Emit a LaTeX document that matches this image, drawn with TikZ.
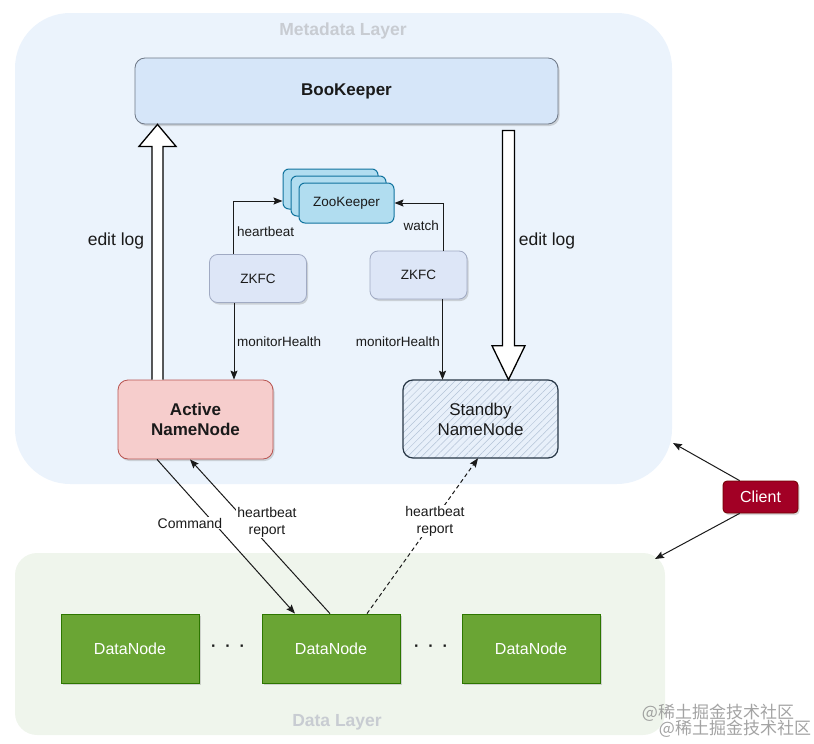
\documentclass[tikz,border=0pt]{standalone}
\usepackage{fontspec}
\setmainfont{Liberation Sans}
\newfontfamily\cjk{Noto Sans CJK SC}
\usetikzlibrary{calc}
\usetikzlibrary{arrows.meta}
\usetikzlibrary{patterns.meta}
\usetikzlibrary{shadows}
\usepackage{xcolor}
\definecolor{metabg}{RGB}{235,243,252}
\definecolor{databg}{RGB}{239,245,236}
\definecolor{layertxt}{RGB}{200,204,210}
\definecolor{txt}{RGB}{26,26,26}
\definecolor{bkfill}{RGB}{214,230,249}
\definecolor{bkdraw}{RGB}{110,120,135}
\definecolor{zkfill}{RGB}{177,221,240}
\definecolor{zkdraw}{RGB}{16,115,158}
\definecolor{zkfcfill}{RGB}{221,230,247}
\definecolor{zkfcdraw}{RGB}{160,170,195}
\definecolor{actfill}{RGB}{246,205,204}
\definecolor{actdraw}{RGB}{184,84,80}
\definecolor{stbfill}{RGB}{232,240,250}
\definecolor{stbhatch}{RGB}{180,195,215}
\definecolor{stbdraw}{RGB}{40,55,70}
\definecolor{dnfill}{RGB}{106,165,52}
\definecolor{dndraw}{RGB}{45,118,0}
\definecolor{clfill}{RGB}{162,0,37}
\definecolor{cldraw}{RGB}{111,0,0}

\begin{document}
\begin{tikzpicture}[x=1pt,y=-1pt,
  >={Stealth[length=9pt,width=7pt,inset=1.5pt]},
  shad/.style={drop shadow={shadow xshift=1.5pt,shadow yshift=-2pt,opacity=.3,fill=black!50}},
  box/.style={draw, rounded corners=8pt, align=center, text=txt, line width=.8pt},
  bkbox/.style={box, shad, fill=bkfill, draw=bkdraw, rounded corners=10pt, minimum width=423pt, minimum height=66pt, font=\bfseries\fontsize{17}{20}\selectfont},
  zkbox/.style={box, fill=zkfill, draw=zkdraw, line width=1pt, rounded corners=6pt, minimum width=95pt, minimum height=40pt, font=\fontsize{13.5}{16}\selectfont},
  zkfcbox/.style={box, shad, fill=zkfcfill, draw=zkfcdraw, minimum width=97pt, minimum height=48pt, font=\fontsize{13.5}{16}\selectfont},
  actbox/.style={box, shad, fill=actfill, draw=actdraw, rounded corners=10pt, minimum width=155pt, minimum height=79pt, font=\bfseries\fontsize{17}{20}\selectfont},
  stbbox/.style={box, draw=stbdraw, line width=1.2pt, rounded corners=10pt, preaction={fill=stbfill}, pattern={Lines[angle=45,distance=5pt,line width=.5pt]}, pattern color=stbhatch, minimum width=155pt, minimum height=78pt, font=\fontsize{17}{20}\selectfont},
  dnbox/.style={box, shad, fill=dnfill, draw=dndraw, rounded corners=0pt, text=white, minimum width=138pt, minimum height=69pt, font=\fontsize{16}{19}\selectfont},
  clbox/.style={box, shad, fill=clfill, draw=cldraw, rounded corners=4pt, text=white, minimum width=75pt, minimum height=32pt, font=\fontsize{16}{19}\selectfont},
  layer/.style={text=layertxt, font=\bfseries\fontsize{17.5}{20}\selectfont},
  lbl/.style={text=txt, inner sep=1pt, font=\fontsize{13.5}{16}\selectfont},
  lbll/.style={text=txt, fill=white, inner sep=1pt, align=center, font=\fontsize{14}{17}\selectfont},
  elbl/.style={text=txt, font=\fontsize{17.5}{20}\selectfont},
  dots/.style={text=txt, font=\bfseries\fontsize{16}{19}\selectfont},
  conn/.style={draw=txt, line width=1pt},
  blk/.style={draw=black, fill=white, line width=1.3pt, line join=miter},
  wm/.style={text=black!45, opacity=.8, font=\cjk\fontsize{17}{20}\selectfont}
]
\useasboundingbox (0,0) rectangle (814,744);

% layers
\fill[metabg, rounded corners=55pt] (15,13) rectangle (672,484);
\node[layer] (metat) at (343,31) {Metadata Layer};
\fill[databg, rounded corners=22pt] (15,553) rectangle (665,735);
\node[layer] (datat) at (337,722) {Data Layer};

\node[bkbox] (bk) at (346.5,91) {BooKeeper};
\foreach \i/\s in {3/2,2/1}
  \node[zkbox] (zk\i) at (346.5-8*\s,203-7*\s) {};
\node[zkbox] (zk1) at (346.5,203) {ZooKeeper};
\node[zkfcbox] (zkfc1) at (258,278.5) {ZKFC};
\node[zkfcbox] (zkfc2) at (418.5,275) {ZKFC};
\node[actbox] (act) at (195.5,419.5) {Active\\NameNode};
\node[stbbox] (stb) at (480.5,419) {Standby\\NameNode};
\node[clbox] (client) at (760.5,497) {Client};
\foreach \n/\x in {1/130,2/331,3/531}
  \node[dnbox] (dn\n) at (\x,648.5) {DataNode};
\foreach \n/\x in {1/228,2/431}
  \node[dots] (dots\n) at (\x,648) {·\hskip9pt·\hskip9pt·};

% ZKFC <-> ZooKeeper, NameNodes
\coordinate (lz) at ([xshift=-25pt]zkfc1.north);
\coordinate (rz) at ([xshift=24.5pt]zkfc2.north);
\coordinate (lm) at ([xshift=-24pt]zkfc1.south);
\coordinate (rm) at ([xshift=24pt]zkfc2.south);
\draw[conn,->] (lz) |- ([yshift=-12pt]zk3.west);
\draw[conn,->] (rz) |- (zk1.east);
\draw[conn,->] (lm) -- (lm |- act.north);
\draw[conn,->] (rm) -- (rm |- stb.north);
\node[lbl, anchor=west] (hb) at (236,232) {heartbeat};
\node[lbl, anchor=east] (wt) at (440,226) {watch};
\node[lbl, anchor=west] (mh1) at (236,342) {monitorHealth};
\node[lbl, anchor=east] (mh2) at (441,342) {monitorHealth};

% edit log
\coordinate (la) at ([xshift=-38pt]act.north);
\coordinate (lt) at (la |- bk.south);
\draw[blk] ($(la)+(-5.5,0)$) -- ($(lt)+(-5.5,22)$) -- ($(lt)+(-18.5,22)$) -- (lt)
  -- ($(lt)+(18.5,22)$) -- ($(lt)+(5.5,22)$) -- ($(la)+(5.5,0)$);
\coordinate (ra) at ([xshift=28pt]stb.north);
\coordinate (rt) at ($(ra |- bk.south)+(0,6)$);
\draw[blk] ($(rt)+(-6,0)$) -- ($(ra)+(-6,-34)$) -- ($(ra)+(-16.5,-34)$) -- (ra)
  -- ($(ra)+(16.5,-34)$) -- ($(ra)+(6,-34)$) -- ($(rt)+(6,0)$) -- cycle;
\node[elbl] (el1) at (116,241) {edit log};
\node[elbl] (el2) at (547,241) {edit log};

% NameNode <-> DataNode
\draw[conn,->] ([xshift=-38.5pt]act.south) -- ([xshift=-36pt]dn2.north);
\draw[conn,->] ([xshift=-1pt]dn2.north) -- ([xshift=-5.5pt]act.south);
\draw[conn,dash pattern=on 4pt off 3pt,->] ([xshift=36pt]dn2.north) -- ([xshift=-2.5pt]stb.south);
\node[lbll] (cmd) at (190,523) {Command};
\node[lbll] (hbr1) at (267,522) {heartbeat\\report};
\node[lbll] (hbr2) at (435,521) {heartbeat\\report};

% client
\coordinate (ctop) at (673,443);
\coordinate (cbot) at (655,559);
\draw[conn,->] ([xshift=17pt]client.north west) -- (ctop);
\draw[conn,->] ([xshift=17pt]client.south west) -- (cbot);

\node[wm] (wm1) at (718,713) {@稀土掘金技术社区};
\node[wm] (wm2) at (735,729) {@稀土掘金技术社区};
\end{tikzpicture}
\end{document}
